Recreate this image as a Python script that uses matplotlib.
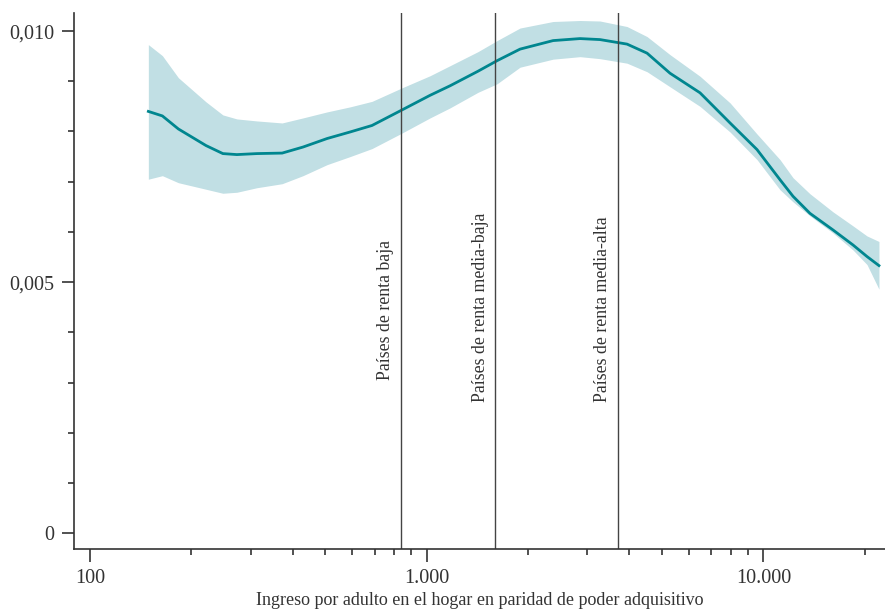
import matplotlib
matplotlib.use("Agg")
import matplotlib.pyplot as plt
from matplotlib.ticker import FixedLocator, NullFormatter

plt.rcParams["font.family"] = ["Liberation Serif", "DejaVu Serif"]

# ingreso por adulto (PPA) y densidad estimada
income = [149, 164, 183, 221, 248, 273, 313, 372, 429, 506, 592, 688, 845, 1023,
          1173, 1420, 1618, 1893, 2373, 2853, 3271, 3935, 4512, 5280, 6483, 7960,
          9572, 11202, 12243, 13749, 16093, 18458, 20310, 22040]
density = [0.00840, 0.00831, 0.00805, 0.00772, 0.00756, 0.00754, 0.00756, 0.00757,
           0.00769, 0.00786, 0.00799, 0.00812, 0.00843, 0.00872, 0.00891, 0.00920,
           0.00941, 0.00964, 0.00981, 0.00985, 0.00983, 0.00974, 0.00956, 0.00916,
           0.00877, 0.00817, 0.00764, 0.00704, 0.00671, 0.00637, 0.00604, 0.00574,
           0.00551, 0.00533]
upper = [0.00973, 0.00951, 0.00907, 0.00859, 0.00833, 0.00825, 0.00821, 0.00817,
         0.00827, 0.00839, 0.00849, 0.00860, 0.00887, 0.00911, 0.00931, 0.00959,
         0.00981, 0.01006, 0.01019, 0.01021, 0.01020, 0.01009, 0.00989, 0.00953,
         0.00910, 0.00857, 0.00795, 0.00744, 0.00708, 0.00676, 0.00640, 0.00612,
         0.00592, 0.00581]
lower = [0.00705, 0.00712, 0.00698, 0.00685, 0.00677, 0.00679, 0.00688, 0.00696,
         0.00712, 0.00734, 0.00750, 0.00766, 0.00797, 0.00827, 0.00847, 0.00878,
         0.00895, 0.00928, 0.00944, 0.00949, 0.00945, 0.00936, 0.00919, 0.00889,
         0.00850, 0.00799, 0.00744, 0.00684, 0.00660, 0.00632, 0.00598, 0.00564,
         0.00535, 0.00486]

thresholds = [840, 1600, 3700]
threshold_labels = ["Países de renta baja", "Países de renta media-baja",
                    "Países de renta media-alta"]
label_y = [0.00305, 0.00262, 0.00262]

x_ticks = [100, 1000, 10000]
x_tick_labels = ["100", "1.000", "10.000"]
x_minor = [m * d for d in (100, 1000, 10000) for m in range(2, 10) if m * d < 23000]
y_ticks = [0, 0.005, 0.010]
y_tick_labels = ["0", "0,005", "0,010"]

fig = plt.figure(figsize=(8.85, 6.09), dpi=100)
ax = fig.add_axes([0.0836, 0.098, 0.9164, 0.8807])

ax.fill_between(income, lower, upper, color="#c1dfe4", linewidth=0)
ax.plot(income, density, color="#00868f", linewidth=2)

for t, lab, ly in zip(thresholds, threshold_labels, label_y):
    ax.axvline(t, color="#444444", linewidth=1)
    ax.annotate(lab, xy=(t, ly), xytext=(-5, 0), textcoords="offset points",
                rotation=90, ha="right", va="bottom", fontsize=12.8, color="#333333")

ax.set_xscale("log")
ax.set_xlim(89.6, 22970)
ax.set_ylim(-0.00032, 0.01036)

ax.xaxis.set_major_locator(FixedLocator(x_ticks))
ax.set_xticklabels(x_tick_labels)
ax.xaxis.set_minor_locator(FixedLocator(x_minor))
ax.xaxis.set_minor_formatter(NullFormatter())

ax.yaxis.set_major_locator(FixedLocator(y_ticks))
ax.set_yticklabels(y_tick_labels)
ax.yaxis.set_minor_locator(FixedLocator([i * 0.001 for i in range(11)]))

for s in ["top", "right"]:
    ax.spines[s].set_visible(False)
for s in ["left", "bottom"]:
    ax.spines[s].set_color("#333333")
    ax.spines[s].set_linewidth(1.2)

ax.tick_params(which="major", length=9, width=1.2, color="#333333",
               labelsize=14.5, labelcolor="#333333", pad=5)
ax.tick_params(which="minor", length=4, width=1.2, color="#333333")

ax.set_xlabel("Ingreso por adulto en el hogar en paridad de poder adquisitivo",
              fontsize=13, color="#333333", labelpad=3)

fig.savefig("out.png", dpi=100)
